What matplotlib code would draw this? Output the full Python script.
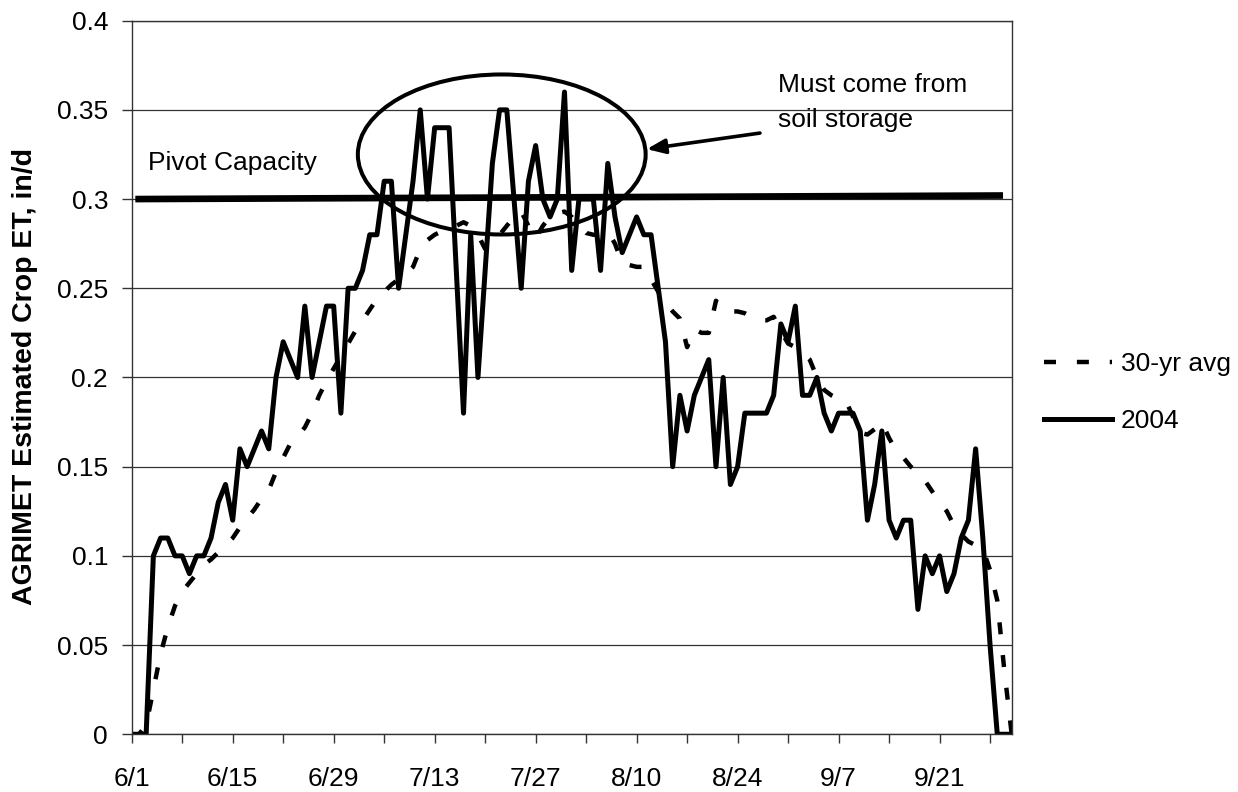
import numpy as np
import matplotlib
matplotlib.use('Agg')
import matplotlib.pyplot as plt
from matplotlib.patches import Ellipse

plt.rcParams['font.family'] = ['Liberation Sans', 'DejaVu Sans']

# daily crop ET, in/d, 6/1 .. 10/1
et_2004 = [
    0, 0, 0, 0.10, 0.11, 0.11, 0.10, 0.10, 0.09, 0.10,
    0.10, 0.11, 0.13, 0.14, 0.12, 0.16, 0.15, 0.16, 0.17, 0.16,
    0.20, 0.22, 0.21, 0.20, 0.24, 0.20, 0.22, 0.24, 0.24, 0.18,
    0.25, 0.25, 0.26, 0.28, 0.28, 0.31, 0.31, 0.25, 0.28, 0.31,
    0.35, 0.30, 0.34, 0.34, 0.34, 0.26, 0.18, 0.28, 0.20, 0.26,
    0.32, 0.35, 0.35, 0.30, 0.25, 0.31, 0.33, 0.30, 0.29, 0.30,
    0.36, 0.26, 0.30, 0.30, 0.30, 0.26, 0.32, 0.29, 0.27, 0.28,
    0.29, 0.28, 0.28, 0.25, 0.22, 0.15, 0.19, 0.17, 0.19, 0.20,
    0.21, 0.15, 0.20, 0.14, 0.15, 0.18, 0.18, 0.18, 0.18, 0.19,
    0.23, 0.22, 0.24, 0.19, 0.19, 0.20, 0.18, 0.17, 0.18, 0.18,
    0.18, 0.17, 0.12, 0.14, 0.17, 0.12, 0.11, 0.12, 0.12, 0.07,
    0.10, 0.09, 0.10, 0.08, 0.09, 0.11, 0.12, 0.16, 0.11, 0.05,
    0, 0, 0,
]

et_30yr = [
    0, 0, 0.005, 0.025, 0.045, 0.06, 0.072, 0.08, 0.085, 0.09,
    0.095, 0.098, 0.102, 0.106, 0.11, 0.116, 0.121, 0.126, 0.132, 0.137,
    0.147, 0.155, 0.163, 0.167, 0.172, 0.18, 0.19, 0.198, 0.205, 0.212,
    0.219, 0.226, 0.232, 0.238, 0.244, 0.248, 0.252, 0.255, 0.258, 0.262,
    0.272, 0.277, 0.280, 0.282, 0.284, 0.285, 0.287, 0.285, 0.280, 0.272,
    0.275, 0.280, 0.285, 0.290, 0.293, 0.285, 0.278, 0.285, 0.290, 0.292,
    0.293, 0.290, 0.285, 0.281, 0.280, 0.280, 0.282, 0.275, 0.264, 0.263,
    0.262, 0.262, 0.255, 0.248, 0.242, 0.237, 0.233, 0.217, 0.227, 0.225,
    0.225, 0.243, 0.238, 0.237, 0.237, 0.236, 0.234, 0.232, 0.232, 0.234,
    0.226, 0.219, 0.217, 0.214, 0.210, 0.200, 0.193, 0.190, 0.188, 0.187,
    0.178, 0.169, 0.168, 0.171, 0.175, 0.166, 0.159, 0.155, 0.150, 0.147,
    0.142, 0.136, 0.130, 0.125, 0.117, 0.112, 0.108, 0.106, 0.104, 0.092,
    0.075, 0.035, 0.0,
]

date_labels = ['6/1', '6/15', '6/29', '7/13', '7/27', '8/10', '8/24', '9/7', '9/21']
y_labels = ['0', '0.05', '0.1', '0.15', '0.2', '0.25', '0.3', '0.35', '0.4']
pivot_capacity = [0.300, 0.302]
pivot_days = [0.5, 120.8]

fig = plt.figure(figsize=(12.38, 7.92), dpi=100)
ax = fig.add_axes([0.1064, 0.0729, 0.7108, 0.901])

days = np.arange(len(et_2004))
ax.plot(days, et_30yr, color='black', lw=3.2, ls=(0, (2.7, 4.7)),
        dash_capstyle='butt', label='30-yr avg')
ax.plot(days, et_2004, color='black', lw=3.6, label='2004')

# pivot capacity line
ax.plot(pivot_days, pivot_capacity, color='black', lw=4.8, solid_capstyle='butt')

ax.set_xlim(0, len(days) - 1)
ax.set_ylim(0, 0.4)

ax.set_yticks(np.linspace(0, 0.4, len(y_labels)))
ax.set_yticklabels(y_labels)
ax.set_xticks(np.arange(0, len(days), 14))
ax.set_xticklabels(date_labels)
ax.set_xticks(np.arange(7, len(days), 14), minor=True)

ax.yaxis.grid(True, color='#333333', lw=0.9)
ax.set_axisbelow(True)
for s in ax.spines.values():
    s.set_color('#333333')
    s.set_linewidth(1.0)

ax.tick_params(axis='y', labelsize=19, length=7, width=1, pad=10, color='#333333')
ax.tick_params(axis='x', which='both', labelsize=19, length=6.5, width=1, pad=17,
               color='#333333')

fig.text(25.5 / 1238, 0.525, 'AGRIMET Estimated Crop ET, in/d', rotation=90,
         fontsize=20.5, fontweight='bold', ha='center', va='center')

ax.text(2.3, 0.320, 'Pivot Capacity', fontsize=19, va='center', ha='left')
ax.text(89.6, 0.354, 'Must come from\nsoil storage', fontsize=19, va='center',
        ha='left', linespacing=1.6)

ax.add_patch(Ellipse((51.3, 0.325), 39.9, 0.0897, fill=False, lw=2.9, ec='black'))
ax.annotate('', xy=(71.4, 0.328), xytext=(87.1, 0.337),
            arrowprops=dict(arrowstyle='-|>,head_length=0.55,head_width=0.22',
                            color='black', lw=2.6, mutation_scale=20,
                            shrinkA=0, shrinkB=0))

ax.legend(loc='center left', bbox_to_anchor=(1044 / 1238, 0.5044),
          bbox_transform=fig.transFigure, frameon=False, fontsize=19,
          handlelength=2.58, handletextpad=0.34, labelspacing=1.25,
          borderpad=0, borderaxespad=0)

fig.savefig('out.png', dpi=100)
